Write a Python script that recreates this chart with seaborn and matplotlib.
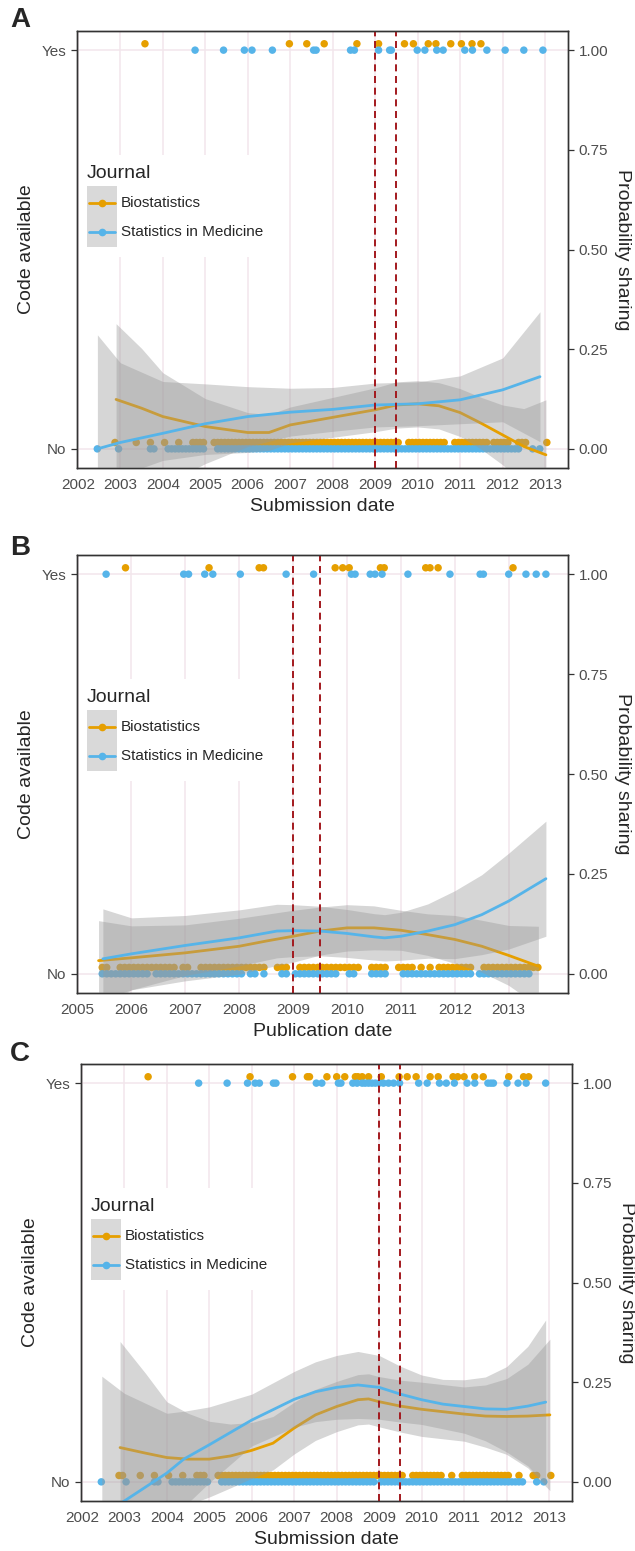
import numpy as np
import pandas as pd
import matplotlib
matplotlib.use("Agg")
import matplotlib.pyplot as plt
import seaborn as sns
from matplotlib.patches import Rectangle
from matplotlib.lines import Line2D

ORANGE = "#E69F00"
BLUE = "#56B4E9"
GRID = "#F2E6EC"
JOURNALS = ["Biostatistics", "Statistics in Medicine"]
cutoffs = [2009.0, 2009.5]
prob_ticks = [0.0, 0.25, 0.50, 0.75, 1.0]

### panel A : submission date
a_years = list(range(2002, 2014))
a_yes_bio = [2003.58, 2006.98, 2007.39, 2007.80, 2008.57, 2009.08, 2009.69, 2009.90,
             2010.25, 2010.43, 2010.78, 2011.03, 2011.28, 2011.49]
a_yes_sim = [2004.76, 2005.43, 2005.92, 2006.10, 2006.58, 2007.55, 2007.61, 2008.42,
             2008.51, 2009.08, 2009.34, 2009.38, 2009.99, 2010.17, 2010.45, 2010.60,
             2011.11, 2011.29, 2011.63, 2012.06, 2012.50, 2012.95]
# one flag per month (jan 2002 ...), 1 = at least one paper without code that month
a_no_bio = ("000000000010 000010001000 100010001111 001111111111 111111111111 111111111111 "
            "111111111111 111111100111 111111110011 111111110111 110011100000 1")
a_no_sim = ("000001000001 000000001100 011111111111 000111111111 111111111111 111111111111 "
            "111111111111 111111111111 111111111111 111111111111 111110001010")
a_bio_x = [2002.9, 2003.5, 2004, 2005, 2006, 2006.5, 2007, 2008, 2009, 2009.5, 2010,
           2010.5, 2011, 2011.5, 2012, 2012.5, 2013.02]
a_bio_fit = [0.124, 0.102, 0.081, 0.056, 0.041, 0.041, 0.060, 0.079, 0.098, 0.110, 0.113,
             0.108, 0.091, 0.064, 0.035, 0.006, -0.015]
a_bio_se = [0.19, 0.15, 0.11, 0.07, 0.05, 0.045, 0.045, 0.05, 0.055, 0.058, 0.058,
            0.058, 0.06, 0.065, 0.075, 0.095, 0.138]
a_sim_x = [2002.46, 2003, 2004, 2005, 2006, 2007, 2008, 2009, 2010, 2011, 2012, 2012.88]
a_sim_fit = [0.0, 0.016, 0.039, 0.063, 0.081, 0.092, 0.099, 0.110, 0.113, 0.123, 0.148, 0.181]
a_sim_se = [0.286, 0.20, 0.13, 0.10, 0.075, 0.06, 0.055, 0.055, 0.055, 0.06, 0.08, 0.163]

### panel B : publication date
b_years = list(range(2005, 2014))
b_yes_bio = [2005.89, 2007.44, 2008.37, 2008.45, 2009.78, 2009.92, 2010.04, 2010.62,
             2010.69, 2011.46, 2011.54, 2011.69, 2013.08]
b_yes_sim = [2005.53, 2006.97, 2007.06, 2007.36, 2007.51, 2008.02, 2008.87, 2009.38,
             2010.08, 2010.15, 2010.43, 2010.52, 2010.65, 2011.13, 2011.91, 2012.47,
             2012.53, 2013.00, 2013.32, 2013.51, 2013.69]
b_no_bio = ("000001100111 111111111101 100111111111 111111001110 011111111111 111001111001 "
            "111010101111 111100111111 1111111")
b_no_sim = ("000001111111 111101111111 111111111111 101101000110 111111111100 110001111000 "
            "111111111111 111101111111 11111")
b_bio_x = [2005.39, 2006, 2007, 2008, 2008.5, 2009, 2009.5, 2010, 2010.5, 2011, 2011.5,
           2012, 2012.5, 2013, 2013.55]
b_bio_fit = [0.033, 0.040, 0.0525, 0.069, 0.082, 0.094, 0.107, 0.115, 0.115, 0.109, 0.098,
             0.086, 0.069, 0.046, 0.019]
b_bio_se = [0.10, 0.08, 0.07, 0.07, 0.067, 0.065, 0.06, 0.058, 0.055, 0.05, 0.052,
            0.06, 0.065, 0.075, 0.10]
b_sim_x = [2005.47, 2006, 2007, 2008, 2008.7, 2009, 2009.5, 2010, 2010.5, 2010.7, 2011,
           2011.5, 2012, 2012.5, 2013, 2013.69]
b_sim_fit = [0.0375, 0.050, 0.071, 0.090, 0.107, 0.108, 0.107, 0.101, 0.0925, 0.090, 0.094,
             0.107, 0.123, 0.148, 0.182, 0.238]
b_sim_se = [0.125, 0.09, 0.075, 0.07, 0.067, 0.065, 0.062, 0.06, 0.058, 0.058, 0.06,
            0.068, 0.085, 0.10, 0.12, 0.144]

### panel C : submission date (second model)
c_years = list(range(2002, 2014))
c_yes_bio = [2003.56, 2005.96, 2006.96, 2007.31, 2007.36, 2007.77, 2008.00, 2008.19,
             2008.44, 2008.50, 2008.60, 2008.75, 2009.05, 2009.47, 2009.66, 2009.87,
             2010.20, 2010.39, 2010.74, 2010.85, 2011.00, 2011.25, 2011.45, 2012.05,
             2012.40, 2012.52]
c_yes_sim = [2004.75, 2005.42, 2005.90, 2006.08, 2006.18, 2006.51, 2006.57, 2007.52,
             2007.65, 2008.04, 2008.10, 2008.38, 2008.48, 2008.60, 2008.67, 2008.75,
             2008.83, 2008.91, 2009.00, 2009.10, 2009.22, 2009.34, 2009.48, 2009.93,
             2010.13, 2010.42, 2010.58, 2010.77, 2011.07, 2011.25, 2011.56, 2011.63,
             2011.69, 2012.01, 2012.27, 2012.46, 2012.92]
c_no_bio = ("000000000011 000010001000 100010001110 001111111111 111111111111 111111111111 "
            "111111111111 111111100111 111111001001 111111111111 100100011000 1")
c_no_sim = ("000001000000 100000001100 011111111111 000111111111 111111111111 111111111111 "
            "111111111110 111111111111 111111111111 111111111111 111110001010")
c_bio_x = [2002.9, 2003.5, 2004, 2004.5, 2005, 2005.5, 2006, 2006.5, 2007, 2007.5, 2008,
           2008.5, 2008.75, 2009, 2009.5, 2010, 2010.5, 2011, 2011.5, 2012, 2012.5, 2013.02]
c_bio_fit = [0.086, 0.072, 0.061, 0.057, 0.057, 0.065, 0.079, 0.097, 0.135, 0.168, 0.189,
             0.206, 0.208, 0.201, 0.190, 0.182, 0.176, 0.170, 0.165, 0.164, 0.165, 0.168]
c_bio_se = [0.266, 0.20, 0.14, 0.115, 0.095, 0.08, 0.07, 0.067, 0.065, 0.064, 0.063,
            0.063, 0.063, 0.063, 0.065, 0.068, 0.068, 0.068, 0.078, 0.095, 0.13, 0.19]
c_sim_x = [2002.47, 2003, 2004, 2004.4, 2005, 2006, 2007, 2007.5, 2008, 2008.5, 2009,
           2009.5, 2010, 2010.5, 2011, 2011.5, 2012, 2012.5, 2012.92]
c_sim_fit = [-0.085, -0.048, 0.022, 0.057, 0.093, 0.155, 0.207, 0.226, 0.237, 0.243, 0.237,
             0.220, 0.206, 0.195, 0.189, 0.183, 0.182, 0.190, 0.200]
c_sim_se = [0.35, 0.27, 0.15, 0.12, 0.095, 0.065, 0.07, 0.075, 0.08, 0.084, 0.08,
            0.07, 0.062, 0.062, 0.067, 0.08, 0.107, 0.15, 0.206]


def month_dates(flags, start):
    flags = flags.replace(" ", "")
    return [start + (i + 0.5) / 12 for i, f in enumerate(flags) if f == "1"]


def points_frame(yes_bio, yes_sim, no_bio, no_sim, start):
    rows = []
    for d in yes_bio:
        rows.append((d, 1, "Biostatistics"))
    for d in yes_sim:
        rows.append((d, 1, "Statistics in Medicine"))
    for d in month_dates(no_bio, start):
        rows.append((d, 0, "Biostatistics"))
    for d in month_dates(no_sim, start):
        rows.append((d, 0, "Statistics in Medicine"))
    return pd.DataFrame(rows, columns=["date", "code", "journal"])


def draw_legend(ax):
    ax.add_patch(Rectangle((0.006, 0.4835), 0.385, 0.2325, transform=ax.transAxes,
                           facecolor="white", edgecolor="none", zorder=8))
    ax.text(0.0204, 0.675, "Journal", transform=ax.transAxes, fontsize=14,
            ha="left", va="center", zorder=9)
    ax.add_patch(Rectangle((0.0204, 0.506), 0.0611, 0.139, transform=ax.transAxes,
                           facecolor="#D9D9D9", edgecolor="none", zorder=9))
    for y, color, label in [(0.607, ORANGE, JOURNALS[0]), (0.540, BLUE, JOURNALS[1])]:
        ax.add_line(Line2D([0.025, 0.077], [y, y], transform=ax.transAxes,
                           color=color, lw=2, zorder=10))
        ax.add_line(Line2D([0.051], [y], transform=ax.transAxes, marker="o", ms=4.5,
                           color=color, lw=0, zorder=10))
        ax.text(0.0896, y, label, transform=ax.transAxes, fontsize=11,
                ha="left", va="center", zorder=10)


def draw_panel(fig, rect, df, curves, years, xlim, xlabel, letter, letter_xy):
    ax = fig.add_axes(rect)
    ax.set_axisbelow(True)
    for x in years:
        ax.axvline(x, color=GRID, lw=1.1, zorder=0)
    for y in [0, 1]:
        ax.axhline(y, color=GRID, lw=1.1, zorder=0)

    df = df.copy()
    df["y"] = df["code"] + np.where(df["journal"] == "Biostatistics", 0.016, 0.0)
    sns.scatterplot(data=df, x="date", y="y", hue="journal", hue_order=JOURNALS,
                    palette=[ORANGE, BLUE], s=29, linewidth=0, legend=False,
                    ax=ax, zorder=2)

    for k, (name, color) in enumerate(zip(JOURNALS, [ORANGE, BLUE])):
        x, fit, se = curves[name]
        fit = np.array(fit)
        se = np.array(se)
        ax.fill_between(x, fit - se, fit + se, color="#999999", alpha=0.4, lw=0,
                        zorder=3 + 2 * k)
        sns.lineplot(x=x, y=fit, color=color, lw=2, ax=ax, sort=False,
                     estimator=None, zorder=4 + 2 * k)

    for c in cutoffs:
        ax.axvline(c, color="#A3191E", lw=1.4, ls=(0, (3.6, 2.4)), zorder=7)

    draw_legend(ax)

    ax.set_xlim(xlim)
    ax.set_ylim(-0.048, 1.048)
    ax.set_xticks(years)
    ax.set_xticklabels([str(y) for y in years])
    ax.set_yticks([0, 1])
    ax.set_yticklabels(["No", "Yes"])
    ax.tick_params(axis="both", labelsize=11, labelcolor="#4D4D4D", color="#333333",
                   length=4, width=0.9)
    ax.set_xlabel(xlabel, fontsize=14, va="center")
    ax.xaxis.set_label_coords(0.5, -0.0886)
    ax.set_ylabel("Code available", fontsize=14, va="center")
    ax.yaxis.set_label_coords(-0.102, 0.5)

    ax2 = ax.twinx()
    ax2.set_ylim(ax.get_ylim())
    ax2.set_yticks(prob_ticks)
    ax2.set_yticklabels([f"{p:.2f}" for p in prob_ticks])
    ax2.tick_params(axis="y", labelsize=11, labelcolor="#4D4D4D", color="#333333",
                    length=4, width=0.9)
    ax2.set_ylabel("Probability sharing", fontsize=14, rotation=270, va="center")
    ax2.yaxis.set_label_coords(1.11, 0.5)

    for a in (ax, ax2):
        for s in a.spines.values():
            s.set_color("#333333")
            s.set_linewidth(1.0)

    fig.text(letter_xy[0], letter_xy[1], letter, fontsize=20, fontweight="bold",
             ha="center", va="center")
    return ax


sns.set_style("white")
plt.rcParams["font.family"] = ["Liberation Sans", "DejaVu Sans"]

W, H = 635, 1551
fig = plt.figure(figsize=(W / 100, H / 100), dpi=100)

df_a = points_frame(a_yes_bio, a_yes_sim, a_no_bio, a_no_sim, 2002)
df_b = points_frame(b_yes_bio, b_yes_sim, b_no_bio, b_no_sim, 2005)
df_c = points_frame(c_yes_bio, c_yes_sim, c_no_bio, c_no_sim, 2002)

draw_panel(fig, [77 / W, 1 - 468 / H, 491 / W, 437 / H], df_a,
           {JOURNALS[0]: (a_bio_x, a_bio_fit, a_bio_se),
            JOURNALS[1]: (a_sim_x, a_sim_fit, a_sim_se)},
           a_years, (2001.98, 2013.54), "Submission date", "A", (20 / W, 1 - 20 / H))
draw_panel(fig, [77 / W, 1 - 993 / H, 491 / W, 438 / H], df_b,
           {JOURNALS[0]: (b_bio_x, b_bio_fit, b_bio_se),
            JOURNALS[1]: (b_sim_x, b_sim_fit, b_sim_se)},
           b_years, (2004.99, 2014.10), "Publication date", "B", (20 / W, 1 - 548 / H))
draw_panel(fig, [81 / W, 1 - 1501 / H, 491 / W, 437 / H], df_c,
           {JOURNALS[0]: (c_bio_x, c_bio_fit, c_bio_se),
            JOURNALS[1]: (c_sim_x, c_sim_fit, c_sim_se)},
           c_years, (2001.98, 2013.54), "Submission date", "C", (20 / W, 1 - 1054 / H))

fig.savefig("out.png", dpi=100)
